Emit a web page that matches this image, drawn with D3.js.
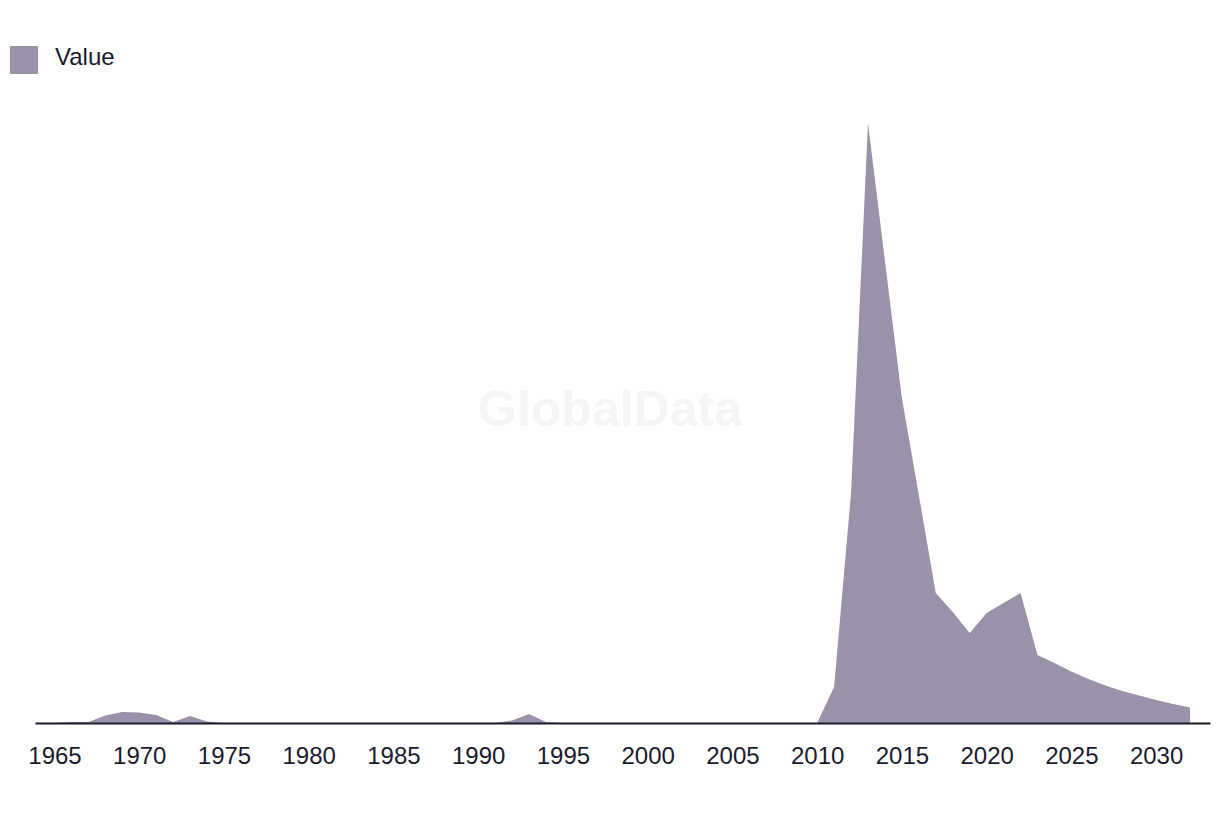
<!DOCTYPE html>
<html>
<head>
<meta charset="utf-8">
<script src="https://cdn.jsdelivr.net/npm/d3@7"></script>
<style>
  html, body { margin: 0; padding: 0; background: #ffffff; }
  svg { display: block; }
</style>
</head>
<body>
<svg id="chart" width="1220" height="816"></svg>
<script>
const years = d3.range(1965, 2033);
const values = [
  0, 1, 1, 7.5, 11, 10.5, 8, 1, 7, 1.5,            // 1965-1974
  0, 0, 0, 0, 0, 0, 0, 0, 0, 0,                     // 1975-1984
  0, 0, 0, 0, 0, 0, 0, 2.5, 9, 1,                   // 1985-1994
  0, 0, 0, 0, 0, 0, 0, 0, 0, 0,                     // 1995-2004
  0, 0, 0, 0, 0, 0, 36, 230, 600, 462,              // 2005-2014
  325, 228, 130, 111, 90, 110, 120, 130, 68, 60,    // 2015-2024
  51.5, 44, 37.5, 32, 27.5, 23, 19, 15.5            // 2025-2032
];
const tickYears = d3.range(1965, 2031, 5);
const seriesName = "Value";
const watermark = "GlobalData";

const data = years.map((y, i) => ({ year: y, value: values[i] }));

const svg = d3.select("#chart");
const fontFamily = "'Liberation Sans', Arial, sans-serif";
const textColor = "#1b1a2e";
const fillColor = "#9b92aa";

// watermark
svg.append("text")
  .attr("x", 610).attr("y", 426)
  .attr("text-anchor", "middle")
  .attr("font-family", fontFamily)
  .attr("font-weight", "bold")
  .attr("font-size", 50)
  .attr("fill", "#f5f5f5")
  .text(watermark);

const x = d3.scaleLinear().domain([1963.85, 2033.18]).range([35, 1210]);
const y = d3.scaleLinear().domain([0, 600]).range([723, 123]);

const area = d3.area()
  .x(d => x(d.year))
  .y0(y(0))
  .y1(d => y(d.value));

svg.append("path")
  .datum(data)
  .attr("d", area)
  .attr("fill", fillColor);

const axis = d3.axisBottom(x)
  .tickValues(tickYears)
  .tickFormat(d3.format("d"))
  .tickSize(0)
  .tickSizeOuter(0);

const gx = svg.append("g")
  .attr("transform", `translate(0,${y(0)})`)
  .call(axis);
gx.select(".domain").attr("stroke", textColor).attr("stroke-width", 2);
gx.selectAll("text")
  .attr("y", 41).attr("dy", 0)
  .attr("font-family", fontFamily)
  .attr("font-size", 24)
  .attr("fill", textColor);

// legend
const legend = svg.append("g");
legend.append("rect")
  .attr("x", 10).attr("y", 46).attr("width", 28).attr("height", 28)
  .attr("fill", fillColor);
legend.append("text")
  .attr("x", 55).attr("y", 65)
  .attr("font-family", fontFamily)
  .attr("font-size", 24)
  .attr("fill", textColor)
  .text(seriesName);
</script>
</body>
</html>
